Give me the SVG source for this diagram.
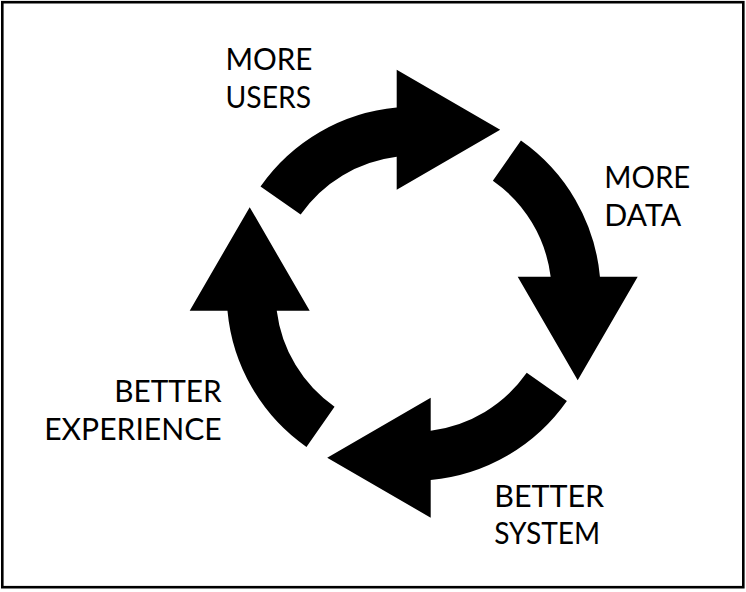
<svg xmlns="http://www.w3.org/2000/svg" width="746" height="592" viewBox="0 0 746 592">
<style>
.lbl{font-family:Lato,"Liberation Sans",sans-serif;font-size:31px;fill:#000;}
.arw{fill:#000;}
</style>
<defs>
<path id="arrowShape" d="M260.52,186.44 A187,187 0 0,1 396.7,107.47 L396.7,69.7 L500.2,129.7 L396.7,189.7 L396.7,156.75 A138,138 0 0,0 300.66,214.55 Z"/>
</defs>
<rect x="0" y="0" width="746" height="592" fill="#fff"/>
<rect x="2.3" y="2.2" width="741" height="585" fill="none" stroke="#000" stroke-width="2.6"/>
<g id="connectors">
<use href="#arrowShape" class="arw"/>
<use href="#arrowShape" class="arw" transform="rotate(90 413.7 293.7)"/>
<use href="#arrowShape" class="arw" transform="rotate(180 413.7 293.7)"/>
<use href="#arrowShape" class="arw" transform="rotate(270 413.7 293.7)"/>
</g>
<g id="more-users">
<text class="lbl" x="225.5" y="70" textLength="87" lengthAdjust="spacingAndGlyphs">MORE</text>
<text class="lbl" x="225.5" y="108.3" textLength="85.5" lengthAdjust="spacingAndGlyphs">USERS</text>
</g>
<g id="more-data">
<text class="lbl" x="604.2" y="187.7" textLength="86" lengthAdjust="spacingAndGlyphs">MORE</text>
<text class="lbl" x="604.2" y="226" textLength="77" lengthAdjust="spacingAndGlyphs">DATA</text>
</g>
<g id="better-system">
<text class="lbl" x="494.2" y="506.7" textLength="110" lengthAdjust="spacingAndGlyphs">BETTER</text>
<text class="lbl" x="494.2" y="544" textLength="106" lengthAdjust="spacingAndGlyphs">SYSTEM</text>
</g>
<g id="better-experience">
<text class="lbl" x="114.2" y="401.7" textLength="107.5" lengthAdjust="spacingAndGlyphs">BETTER</text>
<text class="lbl" x="44.2" y="440" textLength="177.5" lengthAdjust="spacingAndGlyphs">EXPERIENCE</text>
</g>
</svg>
